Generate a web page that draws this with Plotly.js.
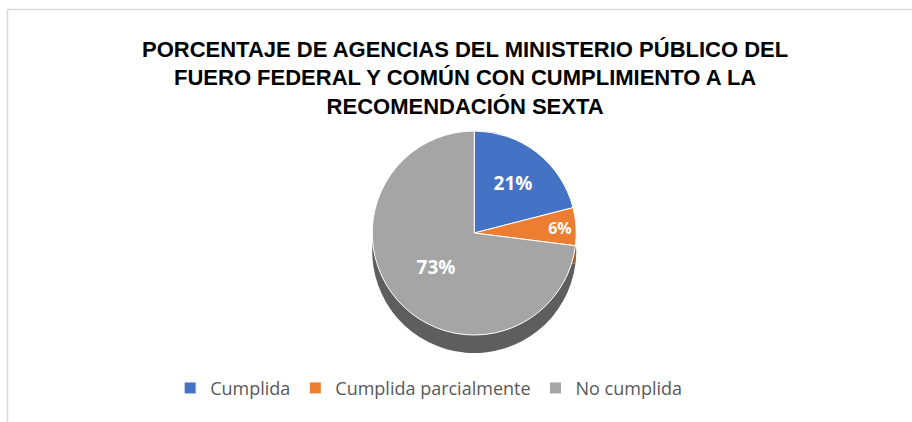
<!DOCTYPE html>
<html>
<head>
<meta charset="utf-8">
<script src="https://cdn.plot.ly/plotly-3.0.1.min.js"></script>
<style>html,body{margin:0;padding:0;background:#fff;}#chart{width:912px;height:422px;}</style>
</head>
<body>
<div id="chart"></div>
<script>
const categories = ["Cumplida", "Cumplida parcialmente", "No cumplida"];
const values = [21, 6, 73];
const colors = ["#4472C4", "#ED7D31", "#A5A5A5"];
const sideColors = ["#2F528F", "#AE5A21", "#5E5E5E"];
const titleText = "PORCENTAJE DE AGENCIAS DEL MINISTERIO PÚBLICO DEL<br>FUERO FEDERAL Y COMÚN CON CUMPLIMIENTO A LA<br>RECOMENDACIÓN SEXTA";

const H = 422;
const side = {
  type: "pie",
  labels: categories,
  values: values,
  sort: false,
  direction: "clockwise",
  rotation: 0,
  marker: {colors: sideColors, line: {color: sideColors, width: 0}},
  textinfo: "none",
  hoverinfo: "skip",
  domain: {x: [0.04, 1], y: [(H - 353) / H, (H - 149) / H]},
  showlegend: false
};

const trace = {
  type: "pie",
  labels: categories,
  values: values,
  sort: false,
  direction: "clockwise",
  rotation: 0,
  marker: {colors: colors, line: {color: "#ffffff", width: 1}},
  textinfo: "percent",
  texttemplate: "%{percent:.0%}",
  textposition: "inside",
  insidetextorientation: "horizontal",
  textfont: {family: "Open Sans, Liberation Sans, sans-serif", size: 19, color: "#ffffff", weight: "bold"},
  hoverinfo: "label+percent",
  domain: {x: [0.04, 1], y: [(H - 335) / H, (H - 131) / H]},
  showlegend: true
};

const layout = {
  width: 912, height: 422,
  margin: {l: 0, r: 0, t: 0, b: 0},
  paper_bgcolor: "#ffffff",
  title: {
    text: titleText,
    font: {family: "Liberation Sans, Arial, sans-serif", size: 22, color: "#000000", weight: "bold"},
    x: 0.51, xanchor: "center",
    y: 0.866, yanchor: "middle"
  },
  legend: {
    orientation: "h",
    x: 0.47, xanchor: "center",
    y: 0.08, yanchor: "middle",
    font: {family: "Open Sans, Liberation Sans, sans-serif", size: 18, color: "#595959"},
    itemwidth: 30
  },
  shapes: [
    {type: "line", xref: "paper", yref: "paper", x0: 7.5/912, x1: 1, y0: 1 - 9.5/422, y1: 1 - 9.5/422, line: {color: "#d9d9d9", width: 1.5}},
    {type: "line", xref: "paper", yref: "paper", x0: 7.5/912, x1: 7.5/912, y0: 0, y1: 1 - 9.5/422, line: {color: "#d9d9d9", width: 1.5}}
  ]
};

Plotly.newPlot("chart", [side, trace], layout, {displayModeBar: false, staticPlot: true});
</script>
</body>
</html>
